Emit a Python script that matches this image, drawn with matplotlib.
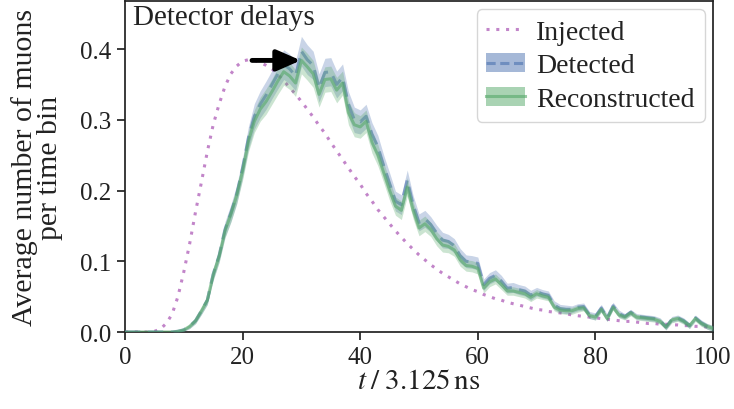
import matplotlib
matplotlib.use("Agg")
import matplotlib.pyplot as plt
import numpy as np
from matplotlib.patches import Patch
from matplotlib.lines import Line2D

t = list(range(0, 101))

injected = [0.0, 0.0, 0.0, 0.0, 0.0, 0.001, 0.004, 0.012, 0.025, 0.05,
            0.085, 0.125, 0.17, 0.212, 0.255, 0.293, 0.322, 0.347, 0.365, 0.376,
            0.383, 0.385, 0.384, 0.381, 0.377, 0.372, 0.364, 0.355, 0.346, 0.336,
            0.326, 0.315, 0.304, 0.292, 0.281, 0.268, 0.256, 0.244, 0.232, 0.22,
            0.209, 0.196, 0.185, 0.173, 0.163, 0.153, 0.143, 0.134, 0.125, 0.117,
            0.109, 0.102, 0.095, 0.089, 0.083, 0.078, 0.073, 0.068, 0.064, 0.06,
            0.057, 0.053, 0.05, 0.047, 0.045, 0.042, 0.04, 0.038, 0.036, 0.034,
            0.032, 0.031, 0.029, 0.028, 0.027, 0.026, 0.024, 0.023, 0.022, 0.021,
            0.02, 0.019, 0.018, 0.017, 0.016, 0.015, 0.015, 0.014, 0.013, 0.012,
            0.012, 0.011, 0.011, 0.01, 0.01, 0.009, 0.009, 0.008, 0.008, 0.007, 0.007]

detected = [0, 0, 0, 0, 0, 0, 0, 0, 0, 0.001,
            0.003, 0.008, 0.016, 0.03, 0.045, 0.082, 0.108, 0.145, 0.168, 0.195,
            0.232, 0.275, 0.305, 0.322, 0.335, 0.35, 0.365, 0.378, 0.372, 0.362,
            0.397, 0.385, 0.377, 0.345, 0.367, 0.368, 0.35, 0.36, 0.322, 0.30,
            0.297, 0.305, 0.28, 0.262, 0.235, 0.21, 0.185, 0.18, 0.215, 0.18,
            0.155, 0.16, 0.152, 0.14, 0.13, 0.128, 0.122, 0.108, 0.1, 0.099,
            0.097, 0.067, 0.076, 0.08, 0.072, 0.062, 0.063, 0.06, 0.058, 0.052,
            0.057, 0.054, 0.052, 0.038, 0.033, 0.032, 0.032, 0.035, 0.036, 0.024,
            0.022, 0.034, 0.02, 0.037, 0.026, 0.022, 0.028, 0.022, 0.021, 0.02,
            0.019, 0.016, 0.007, 0.018, 0.02, 0.016, 0.009, 0.02, 0.013, 0.008, 0.005]

reconstructed = [0, 0, 0, 0, 0, 0, 0, 0, 0, 0.001,
                 0.003, 0.008, 0.016, 0.03, 0.045, 0.081, 0.107, 0.143, 0.166, 0.193,
                 0.228, 0.27, 0.298, 0.315, 0.326, 0.34, 0.355, 0.368, 0.362, 0.352,
                 0.384, 0.375, 0.365, 0.336, 0.357, 0.358, 0.342, 0.352, 0.31, 0.293,
                 0.29, 0.298, 0.268, 0.25, 0.225, 0.2, 0.178, 0.172, 0.205, 0.172,
                 0.147, 0.153, 0.145, 0.132, 0.123, 0.121, 0.116, 0.102, 0.094, 0.093,
                 0.09, 0.062, 0.071, 0.075, 0.067, 0.058, 0.058, 0.056, 0.054, 0.049,
                 0.054, 0.051, 0.049, 0.035, 0.031, 0.030, 0.030, 0.033, 0.034, 0.023,
                 0.021, 0.032, 0.019, 0.035, 0.024, 0.021, 0.027, 0.021, 0.02, 0.019,
                 0.018, 0.015, 0.007, 0.017, 0.019, 0.015, 0.009, 0.019, 0.012, 0.008, 0.005]

det_err = [0, 0, 0, 0, 0, 0, 0, 0, 0, 0.001,
           0.002, 0.003, 0.004, 0.005, 0.006, 0.008, 0.009, 0.011, 0.012, 0.013,
           0.014, 0.016, 0.018, 0.019, 0.02, 0.02, 0.021, 0.021, 0.021, 0.021,
           0.021, 0.021, 0.02, 0.02, 0.02, 0.02, 0.019, 0.019, 0.018, 0.018,
           0.017, 0.017, 0.016, 0.016, 0.015, 0.015, 0.014, 0.014, 0.014, 0.013,
           0.012, 0.012, 0.011, 0.011, 0.011, 0.01, 0.01, 0.01, 0.009, 0.009,
           0.009, 0.008, 0.008, 0.008, 0.008, 0.007, 0.007, 0.007, 0.007, 0.007,
           0.006, 0.006, 0.006, 0.006, 0.006, 0.006, 0.005, 0.005, 0.005, 0.005,
           0.005, 0.005, 0.005, 0.005, 0.005, 0.004, 0.004, 0.004, 0.004, 0.004,
           0.004, 0.004, 0.004, 0.004, 0.004, 0.004, 0.004, 0.004, 0.004, 0.004, 0.004]

rec_err = [0, 0, 0, 0, 0, 0, 0, 0, 0, 0.001,
           0.002, 0.003, 0.004, 0.005, 0.006, 0.008, 0.009, 0.01, 0.011, 0.012,
           0.013, 0.015, 0.016, 0.017, 0.018, 0.018, 0.019, 0.019, 0.019, 0.019,
           0.019, 0.019, 0.019, 0.018, 0.018, 0.018, 0.018, 0.017, 0.017, 0.017,
           0.016, 0.016, 0.015, 0.015, 0.014, 0.014, 0.013, 0.013, 0.013, 0.012,
           0.011, 0.011, 0.01, 0.01, 0.01, 0.009, 0.009, 0.009, 0.008, 0.008,
           0.008, 0.007, 0.007, 0.007, 0.007, 0.006, 0.006, 0.006, 0.006, 0.006,
           0.006, 0.005, 0.005, 0.005, 0.005, 0.005, 0.005, 0.005, 0.004, 0.004,
           0.004, 0.004, 0.004, 0.004, 0.004, 0.004, 0.004, 0.004, 0.004, 0.004,
           0.004, 0.004, 0.004, 0.004, 0.004, 0.004, 0.004, 0.004, 0.004, 0.004, 0.004]

labels = ["Injected", "Detected", "Reconstructed"]
title_text = "Detector delays"
arrow_t = [21.6, 29.9]
arrow_y = 0.384

plt.rcParams['font.family'] = ['Liberation Serif', 'DejaVu Serif']
plt.rcParams['mathtext.fontset'] = 'stix'
plt.rcParams['font.size'] = 18

BLUE = "#4c72b0"
GREEN = "#55a868"
PURPLE = "#b870c0"
INK = '#222222'

fig = plt.figure(figsize=(7.34, 4.10), dpi=100)
ax = fig.add_axes([125/734, 1-333/410, (713-125)/734, (333-2)/410])

tt = np.array(t, float)
d = np.array(detected); de = np.array(det_err)
r = np.array(reconstructed); re = np.array(rec_err)

ax.plot(tt, injected, ls=(0, (1, 2.2)), lw=2.2, color=PURPLE, alpha=0.85, zorder=2)
ax.fill_between(tt, d - de, d + de, color=BLUE, alpha=0.3, lw=0, zorder=3)
ax.plot(tt, d, ls=(0, (5, 2.5)), lw=2.2, color=BLUE, alpha=0.6, zorder=4)
ax.fill_between(tt, r - re, r + re, color=GREEN, alpha=0.3, lw=0, zorder=5)
ax.plot(tt, r, ls='-', lw=2.2, color=GREEN, alpha=0.6, zorder=6)

ax.annotate("", xy=(arrow_t[1], arrow_y), xytext=(arrow_t[0], arrow_y),
            arrowprops=dict(arrowstyle="-|>,head_length=0.8,head_width=0.35",
                            color="black", lw=3.5, shrinkA=0, shrinkB=0), zorder=10)

ax.text(0.014, 0.99, title_text, transform=ax.transAxes, ha='left', va='top', fontsize=21, color=INK)

ax.set_xlim(0, 100)
ax.set_ylim(0, 0.468)
ax.set_xticks([0, 20, 40, 60, 80, 100])
ax.set_yticks([0.0, 0.1, 0.2, 0.3, 0.4])
ax.set_yticklabels(["0.0", "0.1", "0.2", "0.3", "0.4"])
ax.tick_params(direction='out', length=6, width=1.25, colors=INK, labelcolor=INK, labelsize=18, pad=4)
for s in ax.spines.values():
    s.set_linewidth(1.25)
    s.set_color(INK)

ax.set_xlabel(r"$t\;/\;3.125\,\mathrm{ns}$", fontsize=21, color=INK, labelpad=0)
ax.set_ylabel("Average number of muons\nper time bin", fontsize=21.5, color=INK, linespacing=0.95, labelpad=12)

h_inj = Line2D([], [], ls=(0, (1, 2.2)), lw=2.2, color=PURPLE, alpha=0.85)
h_det = (Patch(facecolor=BLUE, alpha=0.5, lw=0), Line2D([], [], ls=(0, (3, 1.5)), lw=2.2, color=BLUE, alpha=0.6))
h_rec = (Patch(facecolor=GREEN, alpha=0.5, lw=0), Line2D([], [], ls='-', lw=2.2, color=GREEN, alpha=0.6))
leg = ax.legend([h_inj, h_det, h_rec], labels, loc='upper right', fontsize=20,
                frameon=True, fancybox=True, handlelength=1.4, handletextpad=0.4,
                labelspacing=0.3, borderpad=0.35, borderaxespad=0.3)
leg.get_frame().set_edgecolor('#cccccc')
leg.get_frame().set_linewidth(1.0)
for txt in leg.get_texts():
    txt.set_color(INK)

fig.savefig("out.png", dpi=100)
